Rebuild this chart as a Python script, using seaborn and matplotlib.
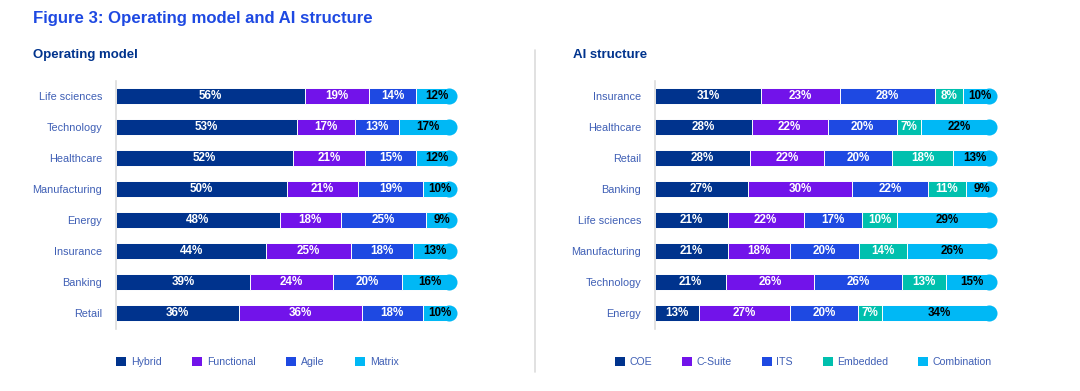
import matplotlib
matplotlib.use("Agg")
import matplotlib.pyplot as plt
from matplotlib.patches import Patch
from matplotlib.lines import Line2D
import numpy as np
import pandas as pd
import seaborn as sns

# ---------------- data ----------------
op_categories = ["Life sciences", "Technology", "Healthcare", "Manufacturing",
                 "Energy", "Insurance", "Banking", "Retail"]
op_series = ["Hybrid", "Functional", "Agile", "Matrix"]
op_hybrid = [56, 53, 52, 50, 48, 44, 39, 36]
op_functional = [19, 17, 21, 21, 18, 25, 24, 36]
op_agile = [14, 13, 15, 19, 25, 18, 20, 18]
op_matrix = [12, 17, 12, 10, 9, 13, 16, 10]

ai_categories = ["Insurance", "Healthcare", "Retail", "Banking",
                 "Life sciences", "Manufacturing", "Technology", "Energy"]
ai_series = ["COE", "C-Suite", "ITS", "Embedded", "Combination"]
ai_coe = [31, 28, 28, 27, 21, 21, 21, 13]
ai_csuite = [23, 22, 22, 30, 22, 18, 26, 27]
ai_its = [28, 20, 20, 22, 17, 20, 26, 20]
ai_embedded = [8, 7, 18, 11, 10, 14, 13, 7]
ai_combination = [10, 22, 13, 9, 29, 26, 15, 34]

# ---------------- style ----------------
NAVY = "#00338D"
PURPLE = "#7213EA"
COBALT = "#1E49E2"
LIGHT = "#00B8F5"
TEAL = "#00C0AE"
TXT = "#3F5FB5"
GRID = "#DCDCDC"

sns.set_theme(style="white")
plt.rcParams["font.family"] = ["Liberation Sans", "DejaVu Sans"]

W, H = 1080, 391
fig = plt.figure(figsize=(W / 100, H / 100), dpi=100)


def px_axes(x0, x1, y0, y1):
    return fig.add_axes([x0 / W, 1 - y1 / H, (x1 - x0) / W, (y1 - y0) / H])


def draw_panel(ax, cats, names, series, colors, label_colors, colspace):
    vals = np.array(series, dtype=float)  # shape (n_series, n_cats)
    totals = vals.sum(axis=0)
    shares = vals / totals * 100
    cum = np.cumsum(shares, axis=0)
    bar_h = 0.54
    bar_px = bar_h * 31
    ax_w_px = ax.get_position().width * W
    cap_px = bar_px - 0.7
    r_data = (cap_px / 2) / ax_w_px * 100
    for i in range(len(names) - 1, -1, -1):
        right = cum[i].copy()
        if i == len(names) - 1:
            right = right - r_data
        df = pd.DataFrame({"cat": cats, "val": right})
        sns.barplot(data=df, x="val", y="cat", order=cats, orient="h",
                    color=colors[i], width=bar_h, edgecolor="white",
                    linewidth=0.7, saturation=1, ax=ax)
        if i == len(names) - 1:
            ax.scatter(right, np.arange(len(cats)), s=(cap_px * 0.72) ** 2,
                       color=colors[i], linewidths=0, zorder=1.5, marker="o")
    for i in range(len(names)):
        centers = cum[i] - shares[i] / 2
        for j in range(len(cats)):
            ax.text(centers[j], j, f"{int(vals[i, j])}%", ha="center",
                    va="center", fontsize=8.4, fontweight="bold",
                    color=label_colors[i], zorder=5)
    ax.set_xlim(0, 100)
    ax.set_ylim(len(cats) - 0.5, -0.5)
    ax.set_xlabel("")
    ax.set_ylabel("")
    ax.set_xticks([])
    for s in ["top", "right", "bottom"]:
        ax.spines[s].set_visible(False)
    ax.spines["left"].set_color(GRID)
    ax.spines["left"].set_linewidth(1.2)
    ax.tick_params(axis="y", length=0, pad=10, labelsize=7.8, labelcolor=TXT)
    ax.set_facecolor("none")
    handles = [Patch(facecolor=c, edgecolor="none") for c in colors]
    ax.legend(handles, names, loc="upper left",
              bbox_to_anchor=(0, 0), ncol=len(names), frameon=False,
              fontsize=7.6, handlelength=0.95, handleheight=0.95,
              handletextpad=0.45, columnspacing=colspace, borderaxespad=0,
              borderpad=0, labelcolor=TXT)


ax1 = px_axes(116, 457, 80.5, 328.5)
draw_panel(ax1, op_categories, op_series,
           [op_hybrid, op_functional, op_agile, op_matrix],
           [NAVY, PURPLE, COBALT, LIGHT],
           ["white", "white", "white", "black"], 2.9)

ax2 = px_axes(655, 997, 80.5, 328.5)
draw_panel(ax2, ai_categories, ai_series,
           [ai_coe, ai_csuite, ai_its, ai_embedded, ai_combination],
           [NAVY, PURPLE, COBALT, TEAL, LIGHT],
           ["white", "white", "white", "white", "black"], 2.81)

ax1.get_legend().set_bbox_to_anchor((116 / W, 1 - 357 / H), transform=fig.transFigure)
ax2.get_legend().set_bbox_to_anchor((615 / W, 1 - 357 / H), transform=fig.transFigure)

# titles
fig.text(33 / W, 1 - 18 / H, "Figure 3: Operating model and AI structure",
         fontsize=12.1, fontweight="bold", color=COBALT, ha="left", va="center")
fig.text(33 / W, 1 - 55 / H, "Operating model", fontsize=9.5,
         fontweight="bold", color=NAVY, ha="left", va="center")
fig.text(573 / W, 1 - 55 / H, "AI structure", fontsize=9.5,
         fontweight="bold", color=NAVY, ha="left", va="center")

fig.add_artist(Line2D([535 / W, 535 / W], [1 - 50 / H, 1 - 372 / H],
                      color=GRID, linewidth=1.2, transform=fig.transFigure))

fig.savefig("out.png", dpi=100, facecolor="white")
